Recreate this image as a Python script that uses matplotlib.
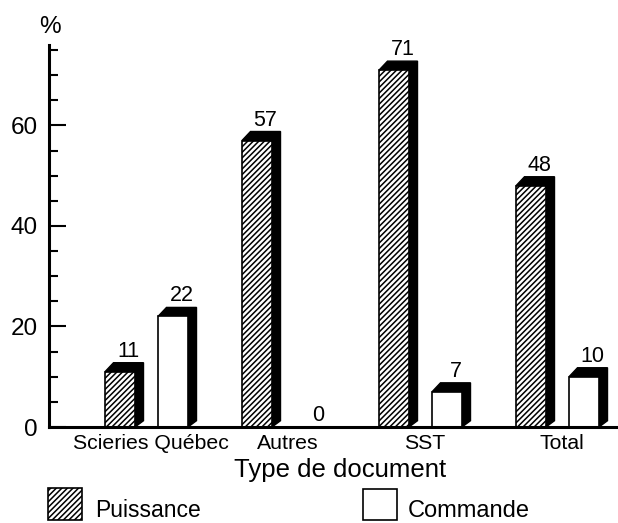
import matplotlib
matplotlib.use("Agg")
import matplotlib.pyplot as plt
from matplotlib.patches import Polygon, Rectangle
from matplotlib.ticker import MultipleLocator
import numpy as np

# ---- data ----
categories = ["Scieries Québec", "Autres", "SST", "Total"]
puissance = [11, 57, 71, 48]
commande = [22, 0, 7, 10]
series_names = ["Puissance", "Commande"]
y_ticks = [0, 20, 40, 60]

plt.rcParams["font.family"] = ["Liberation Sans", "DejaVu Sans"]
plt.rcParams["hatch.linewidth"] = 1.1
HATCH = "//////"

W, H = 618, 523
fig = plt.figure(figsize=(W / 100, H / 100), dpi=100)

def fx(x):
    return x / W

def fy(y):
    return 1 - y / H

# axes placement (pixels)
ax_left, ax_bottom, ax_top = 49, 427, 45
ax = fig.add_axes([fx(ax_left), fy(ax_bottom), 1 - fx(ax_left), fy(ax_top) - fy(ax_bottom)])

pitch_px = 137.0
ymax = 76
xlim = (-(146.5 - ax_left) / pitch_px, (W - 146.5) / pitch_px)
ax.set_xlim(*xlim)
ax.set_ylim(0, ymax)

px_x = 1 / pitch_px                       # data units per px (x)
px_y = ymax / (ax_bottom - ax_top)        # data units per px (y)

off = 26.5 * px_x
bw = 30 * px_x
dx = 8.5 * px_x
dy = 9 * px_y
gap = 6 * px_y

def draw_bar(xc, v, hatched):
    if v <= 0:
        return
    xl, xr = xc - bw / 2, xc + bw / 2
    shadow = Polygon([(xl, v), (xl + dx, v + dy), (xr + dx, v + dy),
                      (xr + dx, dy * 0.7), (xr, 0), (xr, v)],
                     closed=True, facecolor="black", edgecolor="black",
                     linewidth=1.0, zorder=2)
    ax.add_patch(shadow)
    ax.bar(xc, v, width=bw, facecolor="white", edgecolor="black",
           linewidth=1.2, hatch=HATCH if hatched else None, zorder=3)

def label(xc, v):
    y = v + (dy if v > 0 else 0) + gap
    ax.text(xc + dx, y, f"{v}", ha="center", va="baseline", fontsize=15.5, zorder=4)

for i, (p, c) in enumerate(zip(puissance, commande)):
    draw_bar(i - off, p, True)
    draw_bar(i + off, c, False)
    label(i - off, p)
    label(i + off, c)

# spines
for s in ["top", "right"]:
    ax.spines[s].set_visible(False)
ax.spines["left"].set_linewidth(2.2)
ax.spines["bottom"].set_linewidth(2.2)
ax.spines["bottom"].set_zorder(5)

ax.set_yticks(y_ticks)
ax.yaxis.set_minor_locator(MultipleLocator(5))
ax.tick_params(axis="y", which="major", direction="in", length=12, width=1.5,
               labelsize=17.5, pad=8)
ax.tick_params(axis="y", which="minor", direction="in", length=6.5, width=1.5)

ax.set_xticks([i + 4 * px_x for i in range(len(categories))])
ax.set_xticklabels(categories)
ax.tick_params(axis="x", length=0, labelsize=15.3, pad=5)

ax.patch.set_visible(False)

# % label
fig.text(fx(50), fy(33), "%", ha="center", va="baseline", fontsize=17.5)

# x label
fig.text(fx(340), fy(477), "Type de document", ha="center", va="baseline", fontsize=18.5)

# legend
fig.add_artist(Rectangle((fx(48), fy(520)), fx(82) - fx(48), fy(488) - fy(520),
                         transform=fig.transFigure, facecolor="white",
                         edgecolor="black", linewidth=1.2, hatch=HATCH))
fig.text(fx(95), fy(522), series_names[0], ha="left", va="bottom", fontsize=16.5)
fig.add_artist(Rectangle((fx(363), fy(520)), fx(397) - fx(363), fy(489) - fy(520),
                         transform=fig.transFigure, facecolor="white",
                         edgecolor="black", linewidth=1.2))
fig.text(fx(408), fy(522), series_names[1], ha="left", va="bottom", fontsize=17)

fig.savefig("out.png", dpi=100)
